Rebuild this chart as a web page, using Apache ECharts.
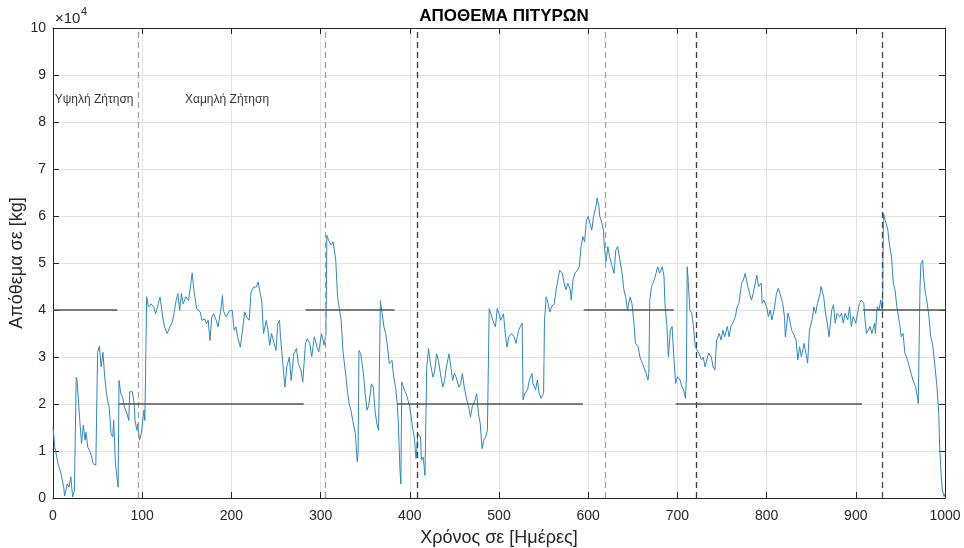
<!DOCTYPE html>
<html>
<head>
<meta charset="utf-8">
<script src="https://cdn.jsdelivr.net/npm/echarts@6/dist/echarts.min.js"></script>
<style>
  html, body { margin: 0; padding: 0; background: #fff; }
  #chart { width: 964px; height: 548px; }
</style>
</head>
<body>
<div id="chart"></div>
<script>
// stock level [day, kg]
const stock = [
  [0,15100],[2,10800],[6,7000],[9,5200],[12,2300],[13,400],[16,3000],[18,2300],[20,4500],[22,200],
  [24,1600],[26,25700],[27,25000],[30,16500],[32,11600],[34,15500],[36,12300],[37,14000],[39,10800],[41,10100],
  [43,9000],[45,7300],[48,7000],[50,31000],[52,32300],[54,27900],[56,31000],[58,25700],[60,22200],[62,20000],
  [63,19400],[65,13700],[67,13000],[68,16500],[70,7300],[73,2300],[74,25000],[76,22200],[78,21500],[80,19400],
  [83,17900],[85,16500],[86,22600],[89,22600],[91,20000],[92,16500],[94,14400],[95,15800],[97,12300],[99,13700],
  [101,17200],[102,18700],[103,16500],[105,42800],[107,40600],[110,41300],[113,40600],[115,39200],[117,40600],[120,42800],
  [123,38500],[125,36400],[128,35000],[131,36400],[133,37100],[135,38500],[138,42000],[140,43500],[142,39900],[144,43500],
  [146,41300],[149,42800],[152,42000],[154,44900],[156,47900],[158,44200],[161,40300],[163,40600],[165,39600],[167,37800],
  [170,38100],[172,37100],[174,37800],[176,33500],[178,38500],[180,39200],[183,37800],[185,36400],[188,39900],[190,43100],
  [191,39900],[194,38500],[196,39200],[198,39900],[201,39900],[203,35700],[205,36400],[207,34300],[210,32100],[212,35000],
  [215,39600],[217,38500],[220,37800],[222,43800],[225,44900],[228,44900],[230,46000],[232,43800],[234,42000],[236,35000],
  [239,37800],[241,35700],[243,32500],[245,35000],[248,32800],[250,31400],[252,37100],[254,37800],[255,34300],[258,27900],
  [260,23600],[262,27900],[265,30000],[267,25000],[270,30700],[273,31800],[275,28600],[278,27200],[280,24700],[283,32800],
  [285,33900],[288,32800],[290,30000],[293,34300],[296,32100],[298,31100],[301,35000],[304,32500],[306,35000],[307,55900],
  [309,54800],[312,53800],[314,54500],[317,50600],[319,42800],[321,40300],[323,37800],[325,31400],[328,26500],[330,22900],
  [332,20000],[334,18700],[336,16500],[339,13700],[341,7700],[342,9400],[343,31400],[345,30700],[348,26500],[350,22200],
  [352,18700],[354,19700],[357,24300],[359,23600],[361,18700],[363,15800],[365,14400],[367,42000],[369,42400],[371,36400],
  [373,35000],[375,32100],[377,28600],[380,29300],[382,25700],[384,23600],[386,20000],[387,16500],[389,5900],[390,3000],
  [391,24700],[394,22900],[396,22200],[398,20800],[400,19400],[403,15100],[405,13000],[407,8400],[408,10900],[409,13700],
  [412,13000],[413,8000],[415,8700],[417,4800],[419,27900],[421,31800],[423,28600],[426,25700],[428,27200],[430,30700],
  [432,29300],[435,25700],[437,23600],[439,25000],[441,27900],[444,30700],[446,27900],[448,25000],[450,26500],[452,25700],
  [455,23600],[457,24300],[459,26500],[461,23600],[464,20800],[466,19400],[468,17200],[470,19400],[473,20800],[475,22200],
  [477,17900],[479,15800],[481,10500],[483,12300],[485,13000],[487,14400],[489,40300],[491,39200],[493,37800],[496,36400],
  [498,40300],[500,39200],[502,37800],[505,39200],[507,35000],[509,32100],[511,34300],[514,35000],[517,34300],[519,32900],
  [522,35700],[524,36500],[526,37200],[527,20900],[529,22300],[532,23000],[534,25100],[537,26500],[538,24400],[541,23000],
  [543,25100],[545,22300],[547,21200],[550,22300],[551,37900],[553,42800],[555,41400],[557,39600],[559,40700],[562,41400],
  [564,44300],[566,46400],[568,48500],[571,47800],[573,45700],[575,44300],[577,45700],[580,44300],[581,42100],[583,46400],
  [585,47800],[588,48500],[590,49200],[592,53500],[594,55600],[596,54500],[598,59100],[600,59900],[602,58400],[604,57000],
  [606,59900],[609,62300],[610,63800],[612,62000],[613,59900],[615,58800],[617,57000],[618,53800],[620,50300],[622,53500],
  [624,51300],[627,49200],[629,47800],[631,52800],[633,53500],[635,51300],[638,47800],[640,44300],[642,42800],[644,40000],
  [647,42800],[649,41400],[651,37900],[653,32900],[656,32200],[658,30000],[660,29000],[662,28700],[665,26500],[667,25100],
  [668,26500],[669,42100],[671,45000],[674,46400],[676,47800],[678,49200],[680,47800],[683,49200],[685,47100],[686,41400],
  [688,37200],[690,30000],[692,35700],[694,36500],[696,30000],[698,24400],[700,25800],[703,25100],[705,23700],[707,23000],
  [709,21200],[710,25100],[711,49200],[712,46400],[714,40000],[716,39300],[718,36500],[720,32200],[722,32200],[724,30800],
  [727,29400],[729,30000],[731,27900],[733,29400],[735,30800],[738,30000],[740,27900],[742,27200],[744,33600],[747,35000],
  [749,33600],[751,35700],[753,34300],[756,36500],[758,34300],[760,36500],[762,37200],[765,38600],[767,40700],[769,41400],
  [772,45700],[774,46400],[776,47800],[779,45000],[781,43500],[783,42100],[785,43500],[788,46400],[789,47400],[791,45000],
  [794,45700],[795,41400],[797,42100],[800,40700],[802,38600],[804,40000],[806,37900],[809,40700],[811,43500],[813,44600],
  [815,43500],[818,41400],[820,38600],[821,34300],[824,39300],[826,37900],[828,35700],[830,35000],[833,33600],[835,29400],
  [837,32200],[839,30000],[842,32900],[844,30800],[846,28700],[848,35700],[851,37900],[853,40700],[855,39300],[857,41400],
  [860,43500],[861,45000],[864,42800],[866,39300],[868,37200],[870,34300],[873,40000],[875,41100],[877,37200],[879,39300],
  [882,38600],[884,39300],[886,37200],[888,39300],[891,37900],[893,40700],[895,36500],[897,38600],[900,37200],[902,39300],
  [904,41400],[906,42100],[909,41400],[910,38600],[912,35000],[914,35700],[916,36500],[918,35000],[921,37200],[922,35000],
  [924,40700],[926,40000],[928,42100],[930,39300],[931,60600],[933,59100],[934,58400],[936,57000],[937,54900],[940,51300],
  [942,45700],[944,44300],[946,40700],[949,37200],[951,34300],[953,35000],[955,30800],[958,29400],[960,27900],[962,26500],
  [964,25100],[967,23700],[969,21600],[970,20100],[972,45000],[973,49900],[975,50600],[976,47100],[978,43500],[979,42800],
  [982,38600],[984,34300],[986,32900],[988,29400],[991,23700],[993,18000],[994,10900],[996,3800],[997,1700],[999,300],
  [1000,1000]
];

// demand-period boundaries (dashed verticals)
const boundaryDays = [96, 305, 408, 619, 721, 930];
const boundaryColors = ['#a0a0a0', '#a0a0a0', '#3a3a3a', '#a0a0a0', '#3a3a3a', '#4a4a4a'];

// reorder levels per period
const levelStart = [0, 74, 283, 386, 595, 698, 908];
const levelEnd = [72, 281, 383, 594, 696, 907, 1000];
const levelValue = [40000, 20000, 40000, 20000, 40000, 20000, 40000];

// notes
const noteDays = [2, 148];
const noteValues = [84700, 84700];
const noteTexts = ['Υψηλή Ζήτηση', 'Χαμηλή Ζήτηση'];

const xTicks = { min: 0, max: 1000, interval: 100 };
const yTicks = { min: 0, max: 100000, interval: 10000 };

const FONT = '"Liberation Sans", Arial, sans-serif';
const AXIS_COLOR = '#262626';

const chart = echarts.init(document.getElementById('chart'));

const boundaryLines = boundaryDays.map((d, i) => ({
  xAxis: d,
  lineStyle: { color: boundaryColors[i], type: [6, 4], width: 1.3 }
}));
const levelLines = levelStart.map((s, i) => [
  { coord: [s, levelValue[i]], lineStyle: { color: '#555', width: 1.5, type: 'solid' } },
  { coord: [levelEnd[i], levelValue[i]] }
]);

const tickStyle = { show: true, inside: true, length: 6, lineStyle: { color: AXIS_COLOR } };
const lineStyleAxis = { show: true, onZero: false, lineStyle: { color: AXIS_COLOR, width: 1 } };

chart.setOption({
  animation: false,
  backgroundColor: '#fff',
  title: {
    text: 'ΑΠΟΘΕΜΑ ΠΙΤΥΡΩΝ',
    left: 499,
    top: 3,
    textAlign: 'center',
    textStyle: { fontFamily: FONT, fontSize: 17, fontWeight: 'bold', color: '#000' }
  },
  graphic: [{
    type: 'text', left: 55, top: 11,
    style: { text: '×10', fontFamily: FONT, fontSize: 15, fill: AXIS_COLOR }
  }, {
    type: 'text', left: 81, top: 6,
    style: { text: '4', fontFamily: FONT, fontSize: 11, fill: AXIS_COLOR }
  }],
  grid: { left: 53, right: 19, top: 28, bottom: 50, containLabel: false, outerBoundsMode: 'none' },
  xAxis: [{
    type: 'value',
    min: xTicks.min, max: xTicks.max, interval: xTicks.interval,
    name: 'Χρόνος σε [Ημέρες]',
    nameLocation: 'middle',
    nameGap: 31,
    nameMoveOverlap: false,
    nameTextStyle: { fontFamily: FONT, fontSize: 18, color: AXIS_COLOR },
    axisLine: lineStyleAxis,
    axisTick: tickStyle,
    axisLabel: { fontFamily: FONT, fontSize: 14, color: AXIS_COLOR, margin: 11, formatter: v => String(v) },
    splitLine: { show: true, lineStyle: { color: '#e3e3e3', width: 1 } }
  }, {
    type: 'value',
    position: 'top',
    min: xTicks.min, max: xTicks.max, interval: xTicks.interval,
    axisLine: lineStyleAxis,
    axisTick: tickStyle,
    axisLabel: { show: false },
    splitLine: { show: false }
  }],
  yAxis: [{
    type: 'value',
    min: yTicks.min, max: yTicks.max, interval: yTicks.interval,
    name: 'Απόθεμα σε [kg]',
    nameLocation: 'middle',
    nameGap: 27,
    nameMoveOverlap: false,
    nameTextStyle: { fontFamily: FONT, fontSize: 18, color: AXIS_COLOR },
    axisLine: lineStyleAxis,
    axisTick: tickStyle,
    axisLabel: {
      fontFamily: FONT, fontSize: 14, color: AXIS_COLOR, margin: 7,
      formatter: v => String(v / 10000)
    },
    splitLine: { show: true, lineStyle: { color: '#e3e3e3', width: 1 } }
  }, {
    type: 'value',
    position: 'right',
    min: yTicks.min, max: yTicks.max, interval: yTicks.interval,
    axisLine: lineStyleAxis,
    axisTick: tickStyle,
    axisLabel: { show: false },
    splitLine: { show: false }
  }],
  series: [{
    type: 'line',
    data: stock,
    showSymbol: false,
    lineStyle: { color: '#3088bd', width: 1 },
    z: 3,
    markLine: {
      silent: true,
      symbol: 'none',
      label: { show: false },
      data: boundaryLines.concat(levelLines)
    }
  }, {
    type: 'scatter',
    symbolSize: 0,
    data: noteDays.map((d, i) => [d, noteValues[i], noteTexts[i]]),
    label: {
      show: true,
      position: 'right',
      distance: 0,
      fontFamily: FONT,
      fontSize: 12,
      color: '#000',
      formatter: p => p.data[2]
    },
    silent: true
  }]
});
</script>
</body>
</html>
